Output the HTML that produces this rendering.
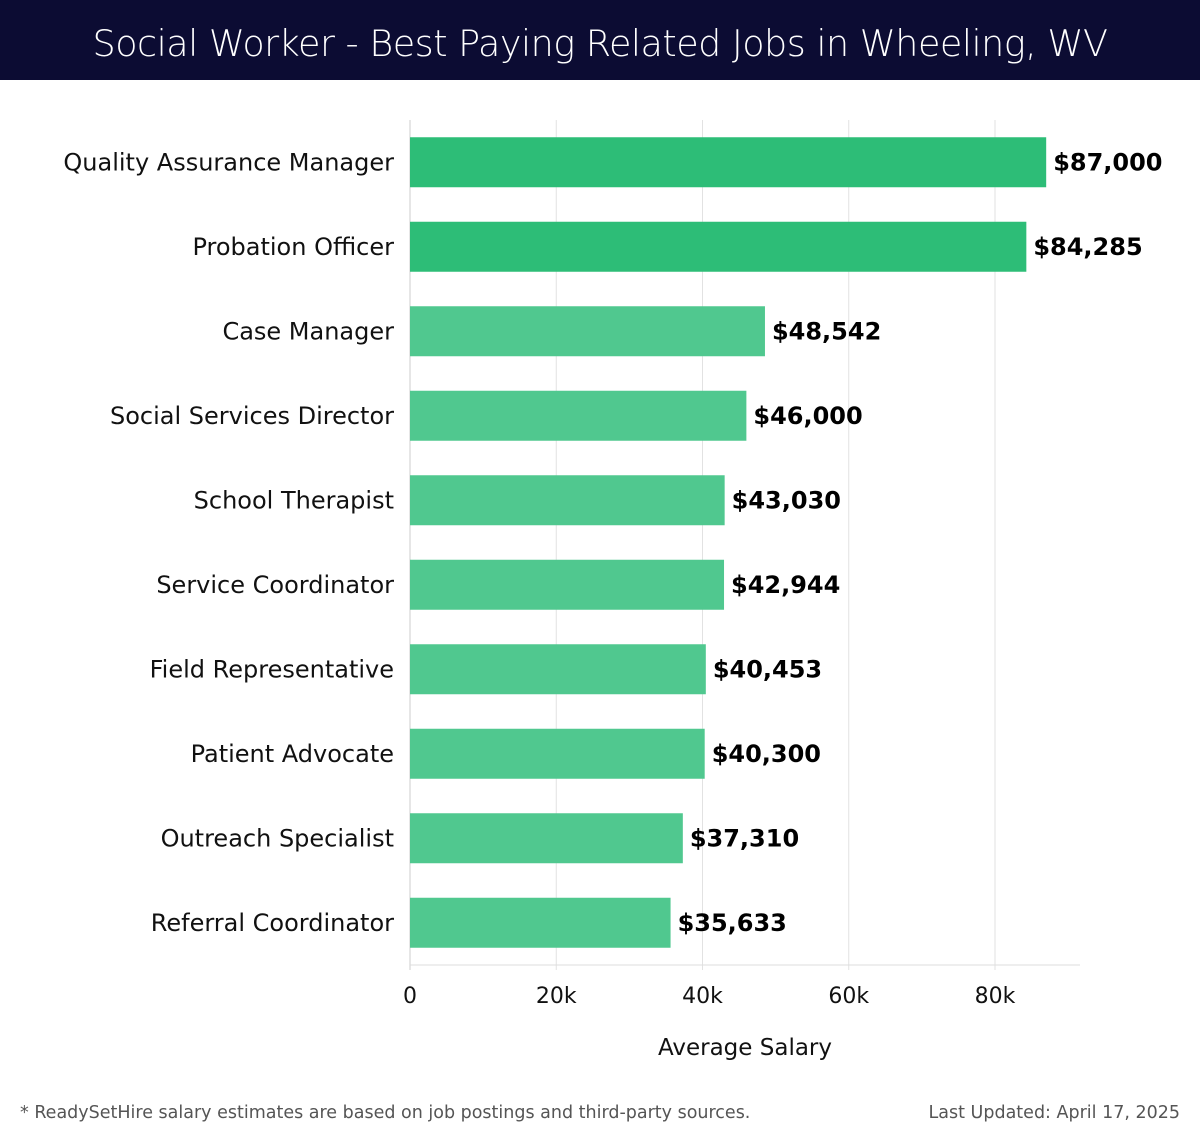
<!DOCTYPE html>
<html><head><meta charset="utf-8"><style>
body{margin:0;width:1200px;height:1140px;background:#fff;font-family:"DejaVu Sans","Liberation Sans",sans-serif;overflow:hidden}
#hdr{position:absolute;left:0;top:0;width:1200px;height:80px;background:#0c0c33;color:#fff;font-size:36.5px;text-align:center;line-height:88px;font-family:"DejaVu Sans","Liberation Sans",sans-serif;font-weight:300;letter-spacing:-0.5px}
svg{position:absolute;left:0;top:0;font-family:"DejaVu Sans","Liberation Sans",sans-serif}
</style></head><body>
<div id="hdr">Social Worker - Best Paying Related Jobs in Wheeling, WV</div>
<svg id="c" width="1200" height="1140"></svg>
<script>
const categories=["Quality Assurance Manager","Probation Officer","Case Manager","Social Services Director","School Therapist","Service Coordinator","Field Representative","Patient Advocate","Outreach Specialist","Referral Coordinator"];
const salaries=[87000,84285,48542,46000,43030,42944,40453,40300,37310,35633];
const valueLabels=["$87,000","$84,285","$48,542","$46,000","$43,030","$42,944","$40,453","$40,300","$37,310","$35,633"];
const tickValues=[0,20000,40000,60000,80000];
const tickLabels=["0","20k","40k","60k","80k"];
const svgEl=document.getElementById('c');const NS='http://www.w3.org/2000/svg';
const x0=410,pxPer=146.25/20000,plotTop=120,band=84.5,xMax=1080;
const X=v=>x0+v*pxPer;const Y=i=>plotTop+band*i+band/2;
function mk(t,a,txt){const e=document.createElementNS(NS,t);for(const k in a)e.setAttribute(k,a[k]);if(txt!=null)e.textContent=txt;svgEl.appendChild(e);return e;}
tickValues.forEach((v,i)=>{
 const g=mk('line',{x1:X(v),x2:X(v),y1:plotTop,y2:970,stroke:i==0?'#ccc':'#e2e2e2','stroke-width':1});
 
 
 const t=mk('text',{x:X(v),y:1003,'text-anchor':'middle','font-size':22,fill:'#111'},tickLabels[i]);
 
 
});
const ax=mk('line',{x1:x0,x2:xMax,y1:965,y2:965,stroke:'#ddd'});


categories.forEach((c,i)=>{
 const y=Y(i);
 const r=mk('rect',{x:x0,y:y-25,width:X(salaries[i])-x0,height:50,fill:i<2?'#2dbd77':'#50c88f'});
 
 
 const l=mk('text',{x:394,y:y+8,'text-anchor':'end','font-size':24,fill:'#111'},c);
 
 
 const v=mk('text',{x:X(salaries[i])+7,y:y+8,'font-size':24,'font-weight':'bold',fill:'#000'},valueLabels[i]);
 
 
});
const xt=mk('text',{x:745,y:1055,'text-anchor':'middle','font-size':23,fill:'#111'},'Average Salary');


const fn=mk('text',{x:20,y:1118,'font-size':17.5,fill:'#555'},'* ReadySetHire salary estimates are based on job postings and third-party sources.');


const lu=mk('text',{x:1180,y:1118,'text-anchor':'end','font-size':17.5,fill:'#555'},'Last Updated: April 17, 2025');


</script>
</body></html>
